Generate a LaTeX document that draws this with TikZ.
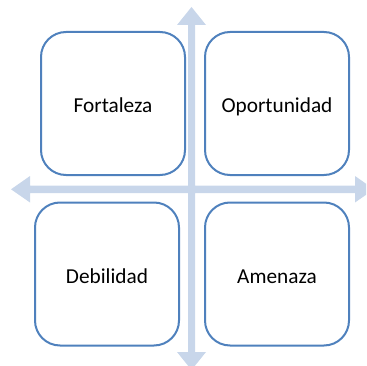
\documentclass[tikz,border=0pt]{standalone}
\usepackage{fontspec}
\setmainfont{Carlito}
\definecolor{boxline}{RGB}{79,129,189}
\definecolor{arrowfill}{RGB}{200,214,234}
\begin{document}
\begin{tikzpicture}[x=1pt,y=-1pt,
  quad/.style={draw=boxline, line width=2pt, fill=white, rounded corners=25pt,
    minimum width=144pt, minimum height=143pt, inner sep=0pt,
    text height=19pt, text depth=0pt, font=\fontsize{21.3pt}{25pt}\selectfont}]
\useasboundingbox (0,0) rectangle (366,366);
\clip (0,0) rectangle (366,366);
% cross of arrows
\fill[arrowfill] (188,25) -- (177,25) -- (191.5,7) -- (206,25) -- (195,25)
  -- (195,185.5) -- (355,185.5) -- (355,176) -- (374,189.3) -- (355,202.5) -- (355,193)
  -- (195,193) -- (195,352) -- (206,352) -- (191.5,370) -- (177,352) -- (188,352)
  -- (188,193) -- (30,193) -- (30,202.5) -- (11,189.3) -- (30,176) -- (30,185.5)
  -- (188,185.5) -- cycle;
% boxes
\node[quad] (f) at (113,103.5) {Fortaleza};
\node[quad] (o) at (277,103.5) {Oportunidad};
\node[quad] (d) at (107,274) {Debilidad};
\node[quad] (a) at (277,274) {Amenaza};
\end{tikzpicture}
\end{document}
